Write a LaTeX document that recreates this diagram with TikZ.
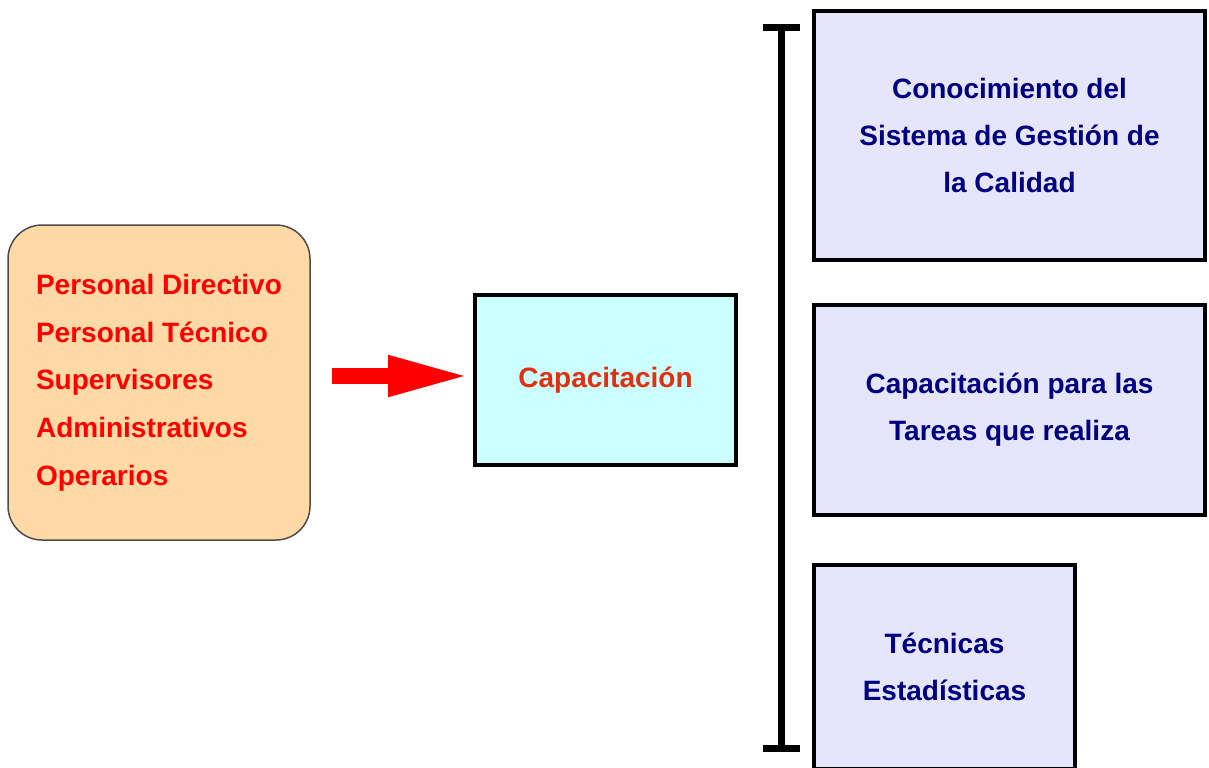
\documentclass[tikz,border=0pt]{standalone}
\usepackage{fontspec}
\setmainfont{Liberation Sans}
\usetikzlibrary{arrows.meta,positioning}
\definecolor{durazno}{RGB}{255,218,166}
\definecolor{celeste}{RGB}{204,255,255}
\definecolor{lavanda}{RGB}{229,229,252}
\definecolor{azul}{RGB}{0,0,128}
\definecolor{naranja}{RGB}{224,48,16}
\begin{document}
\begin{tikzpicture}[x=0.5pt,y=-0.5pt]

  \tikzset{main node/.style={rectangle, draw, line width=2pt,
  		text centered, align=center, inner sep=0pt,
  		font=\fontsize{14}{23.5}\selectfont\bfseries}, }
  \tikzset{personal node/.style={main node, draw=black!70, line width=0.75pt,
  		fill=durazno, text=red, align=left, rounded corners=17pt,
  		font=\fontsize{14}{23.85}\selectfont\bfseries}, }
  \tikzset{tema node/.style={main node, fill=lavanda, text=azul}, }
  \tikzset{flecha/.style={-{Triangle[length=41.5pt,width=18.5pt]}, line width=8pt, red}, }
  \tikzset{corchete/.style={line width=3.5pt, black}, }
\useasboundingbox (0,0) rectangle (1209,767);

\node[personal node, minimum width=151pt, minimum height=157.5pt] (p) at (159,382.5)
  {Personal Directivo\\Personal Técnico\\Supervisores\\Administrativos\\Operarios};
\node[main node, fill=celeste, text=naranja, minimum width=130.5pt, minimum height=85pt] (c) at (605.5,380) {Capacitación};

\node[tema node, minimum width=195.5pt, minimum height=124.5pt] (t1) at (1009.5,135.5)
  {Conocimiento del\\Sistema de Gestión de\\la Calidad};
\node[tema node, minimum width=195.5pt, minimum height=105pt] (t2) at (1009.5,410)
  {Capacitación para las\\Tareas que realiza};
\node[tema node, minimum width=130.5pt, minimum height=102pt] (t3) at (944.5,667)
  {Técnicas\\Estadísticas};

%% flecha
\coordinate (f) at (400,376);
\draw[flecha, shorten <=10.5pt, shorten >=1pt] (p.east |- f) -- (c.west |- f);

%% corchete
\coordinate (ca) at (781,27);
\coordinate (cb) at (781,748);
\draw[corchete] (ca) -- (cb);
\draw[corchete] ([xshift=-9pt]ca) -- ([xshift=9.5pt]ca);
\draw[corchete] ([xshift=-9pt]cb) -- ([xshift=9.5pt]cb);
%%
\end{tikzpicture}
\end{document}
